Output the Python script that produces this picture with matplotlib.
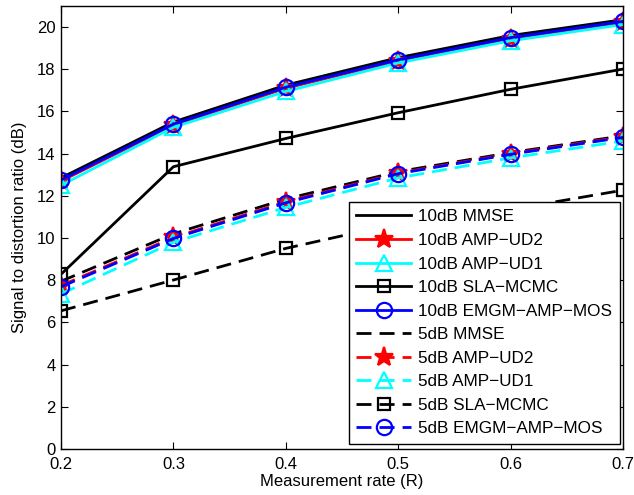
import matplotlib
matplotlib.use('Agg')
import matplotlib.pyplot as plt

plt.rcParams['font.family'] = ['Liberation Sans', 'DejaVu Sans']

# ── Data ─────────────────────────────────────────────────────────────────────
rate = [0.2, 0.3, 0.4, 0.5, 0.6, 0.7]

mmse_10 = [12.85, 15.50, 17.25, 18.55, 19.60, 20.35]
ud2_10  = [12.70, 15.35, 17.10, 18.40, 19.45, 20.22]
ud1_10  = [12.50, 15.25, 16.95, 18.30, 19.35, 20.12]
sla_10  = [8.28, 13.38, 14.72, 15.94, 17.05, 18.01]
emgm_10 = [12.75, 15.40, 17.15, 18.45, 19.50, 20.27]

mmse_5 = [7.95, 10.20, 11.85, 13.15, 14.05, 14.85]
ud2_5  = [7.75, 10.03, 11.72, 13.08, 14.00, 14.80]
ud1_5  = [7.35, 9.80, 11.45, 12.85, 13.80, 14.60]
sla_5  = [6.55, 8.01, 9.51, 10.70, 11.35, 12.27]
emgm_5 = [7.69, 9.98, 11.67, 13.05, 13.97, 14.77]

x_ticks = [0.2, 0.3, 0.4, 0.5, 0.6, 0.7]
y_ticks = [0, 2, 4, 6, 8, 10, 12, 14, 16, 18, 20]

# (label, 10dB values, 5dB values, colour, marker, markersize)
SERIES = [
    ('MMSE',          mmse_10, mmse_5, '#000000', None, 0),
    ('AMP\u2212UD2',  ud2_10,  ud2_5,  '#ff0000', '*', 14),
    ('AMP\u2212UD1',  ud1_10,  ud1_5,  '#00ffff', '^', 11),
    ('SLA\u2212MCMC', sla_10,  sla_5,  '#000000', 's', 9),
    ('EMGM\u2212AMP\u2212MOS', emgm_10, emgm_5, '#0000ff', 'o', 11),
]

LW = 2.0
DASH = (5.4, 2.9)

# ── Plot ─────────────────────────────────────────────────────────────────────
fig = plt.figure(figsize=(6.34, 4.95), dpi=100)
ax = fig.add_axes([0.0962, 0.0929, 0.8864, 0.8950])

for db, idx, ls in [('10dB', 1, '-'), ('5dB', 2, '--')]:
    for s in SERIES:
        label, vals, color, marker, ms = s[0], s[idx], s[3], s[4], s[5]
        kw = dict(color=color, linewidth=LW, linestyle=ls,
                  label=f'{db} {label}')
        if marker is not None:
            kw.update(marker=marker, markersize=ms,
                      markerfacecolor=color if marker == '*' else 'none',
                      markeredgecolor=color, markeredgewidth=1.6)
        line, = ax.plot(rate, vals, **kw)
        if ls == '--':
            line.set_dashes(DASH)

ax.set_xlim(0.2, 0.7)
ax.set_ylim(0, 21)
ax.set_xticks(x_ticks)
ax.set_yticks(y_ticks)
ax.set_xticklabels([f'{t:.1f}' for t in x_ticks])
ax.tick_params(direction='in', top=True, right=True, length=5,
               labelsize=12, width=0.8)
ax.tick_params(axis='x', pad=6)
ax.tick_params(axis='y', pad=4)
for sp in ax.spines.values():
    sp.set_linewidth(1.0)

ax.set_xlabel('Measurement rate (R)', fontsize=12, labelpad=1)
ax.set_ylabel('Signal to distortion ratio (dB)', fontsize=12, labelpad=7)

leg = ax.legend(loc='lower right', bbox_to_anchor=(0.9947, 0.0113),
                fontsize=12.3, numpoints=1, handlelength=3.2,
                handletextpad=0.42, labelspacing=0.5, borderpad=0.45,
                borderaxespad=0, fancybox=False, framealpha=1, edgecolor='k')
leg.get_frame().set_linewidth(1.0)

plt.savefig('out.png', dpi=100)
